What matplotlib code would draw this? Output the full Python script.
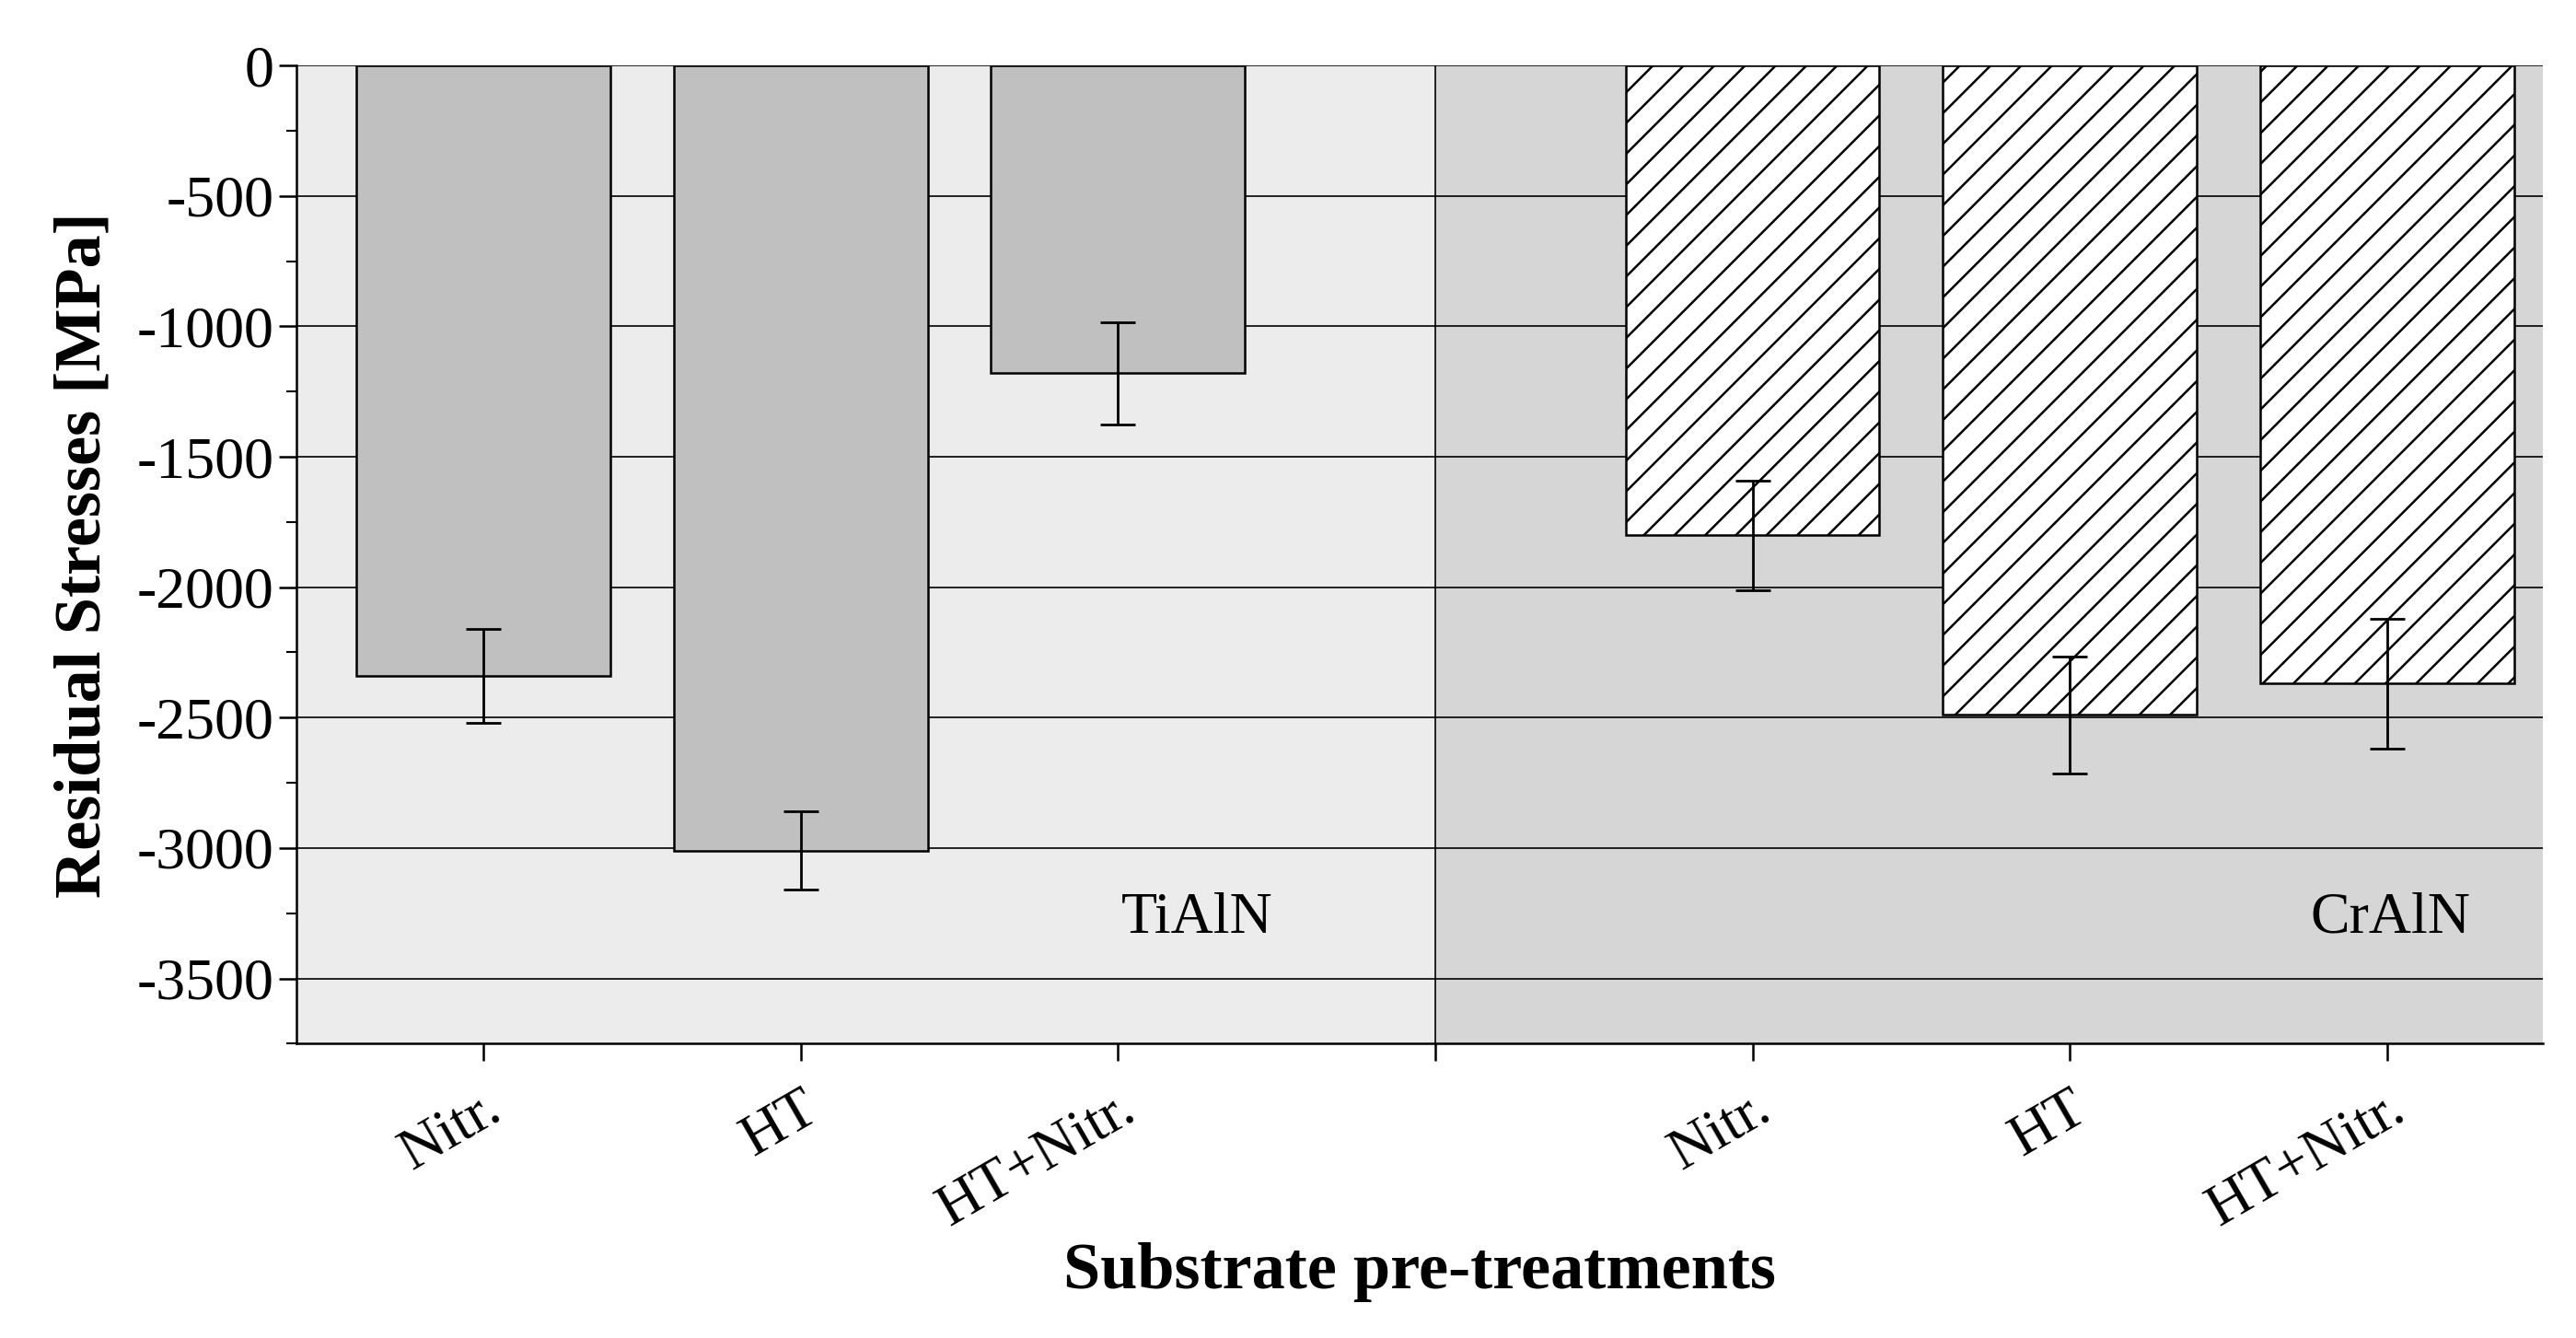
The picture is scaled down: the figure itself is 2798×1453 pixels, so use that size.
import matplotlib
matplotlib.use("Agg")
import matplotlib.pyplot as plt
import numpy as np
from matplotlib.ticker import MultipleLocator

plt.rcParams['font.family'] = ['Liberation Serif', 'DejaVu Serif']
plt.rcParams['hatch.linewidth'] = 1.8

labels = ["Nitr.", "HT", "HT+Nitr.", "Nitr.", "HT", "HT+Nitr."]
tialn = [-2340, -3010, -1180]
tialn_err = [180, 150, 195]
craln = [-1800, -2490, -2370]
craln_err = [210, 225, 250]

fig = plt.figure(figsize=(27.98, 14.53), dpi=100)
ax = fig.add_axes([0.115, 0.22, 0.872, 0.731])
xl = (0.41, 7.49)
ax.set_xlim(*xl); ax.set_ylim(-3750, 0)
ax.axvspan(xl[0], 4, color='#ececec', zorder=0)
ax.axvspan(4, xl[1], color='#d6d6d6', zorder=0)
ax.axvline(4, color='black', lw=1.2, zorder=1)
for y in np.arange(-3500, 1, 500):
    ax.axhline(y, color='black', lw=1.2, zorder=1)

p1 = [1, 2, 3]; p2 = [5, 6, 7]
ax.bar(p1, tialn, width=0.8, color='#c0c0c0', edgecolor='black', lw=1.8, zorder=2)
ax.bar(p2, craln, width=0.8, color='white', edgecolor='black', lw=1.8, hatch='/', zorder=2)
ekw = dict(fmt='none', ecolor='black', elinewidth=2, capsize=14, capthick=2, zorder=3)
ax.errorbar(p1, tialn, yerr=tialn_err, **ekw)
ax.errorbar(p2, craln, yerr=craln_err, **ekw)

ax.text(3.25, -3272, "TiAlN", fontsize=46, ha='center', va='center')
ax.text(7.01, -3272, "CrAlN", fontsize=46, ha='center', va='center')

ax.set_xticks([1, 2, 3, 4, 5, 6, 7])
ax.set_xticklabels(labels[:3] + [""] + labels[3:], rotation=30, ha='right',
                   rotation_mode='anchor', fontsize=46)
ax.yaxis.set_minor_locator(MultipleLocator(250))
ax.set_yticks(np.arange(-3500, 1, 500))
ax.set_yticklabels([str(int(v)) for v in np.arange(-3500, 1, 500)], fontsize=46)
ax.tick_params(axis='both', which='major', direction='out', length=14, width=1.8)
ax.tick_params(axis='x', pad=16)
ax.tick_params(axis='y', which='minor', direction='out', length=8, width=1.5)
for s in ['top', 'right']:
    ax.spines[s].set_visible(False)
ax.spines['left'].set_linewidth(1.8)
ax.spines['bottom'].set_linewidth(1.8)
ax.set_ylabel("Residual Stresses [MPa]", fontsize=52, fontweight='bold', labelpad=18)
ax.set_xlabel("Substrate pre-treatments", fontsize=52, fontweight='bold', labelpad=4)
fig.savefig("out.png", dpi=100)
